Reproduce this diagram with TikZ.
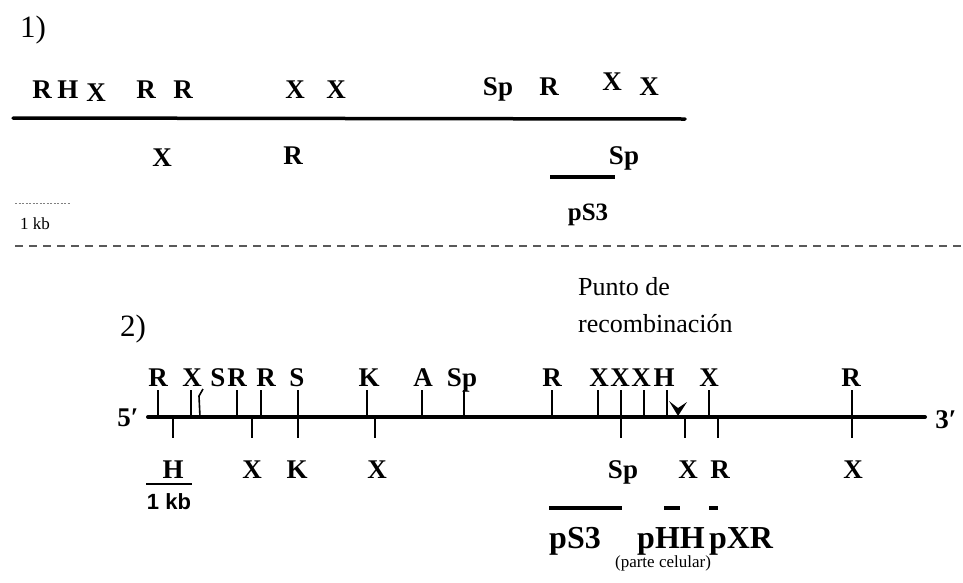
\documentclass[tikz,border=0pt]{standalone}
\usepackage{fontspec}
\setmainfont{Liberation Serif}
\newfontfamily\scalefont{Liberation Sans}
\newcommand{\prm}{′}
\begin{document}
\begin{tikzpicture}[x=1pt,y=-1pt,
  enz/.style={font=\fontsize{27}{27}\selectfont\bfseries, inner sep=0pt, anchor=base},
  probe/.style={font=\fontsize{32}{32}\selectfont\bfseries, inner sep=0pt, anchor=base},
  heading/.style={font=\fontsize{31}{31}\selectfont, inner sep=0pt, anchor=base west},
  note/.style={font=\fontsize{26}{26}\selectfont, inner sep=0pt, anchor=base west},
  dna/.style={line width=4pt, line cap=round},
  site/.style={line width=1.6pt},
  probebar/.style={line width=3.5pt}]
\useasboundingbox (0,0) rectangle (963,582);

% ---------- map 1 ----------
\node[heading] (h1) at (20,37) {1)};
\coordinate (m1a) at (13,118);
\coordinate (m1b) at (685,119);
\draw[dna, line width=3.5pt] (m1a) -- (m1b);
\foreach \n/\x/\y/\t in {a/42/98/R, b/68/98/H, c/96/101/X, d/146/98/R, e/183/98/R,
                          f/295/98/X, g/336/98/X, h/498/95/Sp, i/549/95/R, j/612/90/X, k/649/95/X}
  \node[enz] (ta\n) at (\x,\y) {\t};
\foreach \n/\x/\y/\t in {a/162/166/X, b/293/164/R, c/624/164/Sp}
  \node[enz] (ba\n) at (\x,\y) {\t};
\coordinate (ps1a) at (550,177);
\coordinate (ps1b) at (615,177);
\draw[probebar] (ps1a) -- (ps1b);
\node[enz, font=\fontsize{25}{25}\selectfont\bfseries] (ps1) at (588,220) {pS3};
% scale bar
\coordinate (sc1a) at (15,203);
\coordinate (sc1b) at (70,203);
\draw[gray, line width=0.8pt, dash pattern=on 2pt off 1.5pt] (sc1a) -- (sc1b);
\node[inner sep=0pt, anchor=base west, font=\fontsize{17}{17}\selectfont] (kb1) at (20,229) {1 kb};

% ---------- separator ----------
\coordinate (sepa) at (15,246);
\coordinate (sepb) at (963,246);
\draw[gray!70!black, line width=1.2pt, dash pattern=on 8pt off 6pt] (sepa) -- (sepb);

% ---------- map 2 ----------
\node[heading] (h2) at (120,336) {2)};
\node[note] (rp1) at (578,295) {Punto de};
\node[note] (rp2) at (578,332) {recombinación};

\coordinate (m2a) at (148,417);
\coordinate (m2b) at (925,417);
\draw[dna] (m2a) -- (m2b);
\node[enz] (five) at (128,426) {5\prm};
\node[enz] (three) at (946,428) {3\prm};

% sites above the line
\foreach \i/\x in {1/158, 2/191, 3/237, 4/261, 5/298, 6/367, 7/422, 8/464,
                   9/552, 10/598, 11/621, 12/644, 13/667, 14/709, 15/852} {
  \coordinate (u\i) at (\x,417);
  \draw[site] (u\i) -- ++(0,-27);
}
\coordinate (us) at (200,417);
\draw[site] (us) -- ++(-1,-21) -- ++(4,-7);
% sites below the line
\foreach \i/\x in {1/173, 2/252, 3/298, 4/375, 5/621, 6/685, 7/718, 8/852} {
  \coordinate (d\i) at (\x,417);
  \draw[site] (d\i) -- ++(0,21);
}
% recombination point
\coordinate (rcp) at (678,416);
\fill (rcp) -- ++(-9,-15) -- ++(9,7) -- ++(9,-6) -- cycle;

\foreach \n/\x/\t in {a/158/R, b/192/X, c/218/S, d/237/R, e/266/R, f/297/S, g/369/K, h/423/A,
                      i/462/Sp, j/552/R, k/599/X, l/620/X, m/641/X, n/664/H, o/709/X, p/851/R}
  \node[enz] (tb\n) at (\x,386) {\t};
\foreach \n/\x/\t in {a/173/H, b/252/X, c/297/K, d/377/X, e/623/Sp, f/688/X, g/720/R, h/853/X}
  \node[enz] (bb\n) at (\x,478) {\t};

% scale bar
\coordinate (sc2a) at (146,484);
\coordinate (sc2b) at (192,484);
\draw[line width=2pt] (sc2a) -- (sc2b);
\node[inner sep=0pt, anchor=base, font=\scalefont\fontsize{22}{22}\selectfont\bfseries] (kb2) at (169,509) {1 kb};

% probes
\coordinate (p3a) at (549,508);  \coordinate (p3b) at (622,508);
\coordinate (pha) at (664,508);  \coordinate (phb) at (680,508);
\coordinate (pxa) at (709,508);  \coordinate (pxb) at (718,508);
\draw[probebar] (p3a) -- (p3b);
\draw[probebar] (pha) -- (phb);
\draw[probebar] (pxa) -- (pxb);
\node[probe] (ps2) at (575,548) {pS3};
\node[probe] (phh) at (671,548) {pHH};
\node[probe] (pxr) at (741,548) {pXR};
\node[inner sep=0pt, anchor=base, font=\fontsize{17}{17}\selectfont] (pc) at (663,567) {(parte celular)};
\end{tikzpicture}
\end{document}
